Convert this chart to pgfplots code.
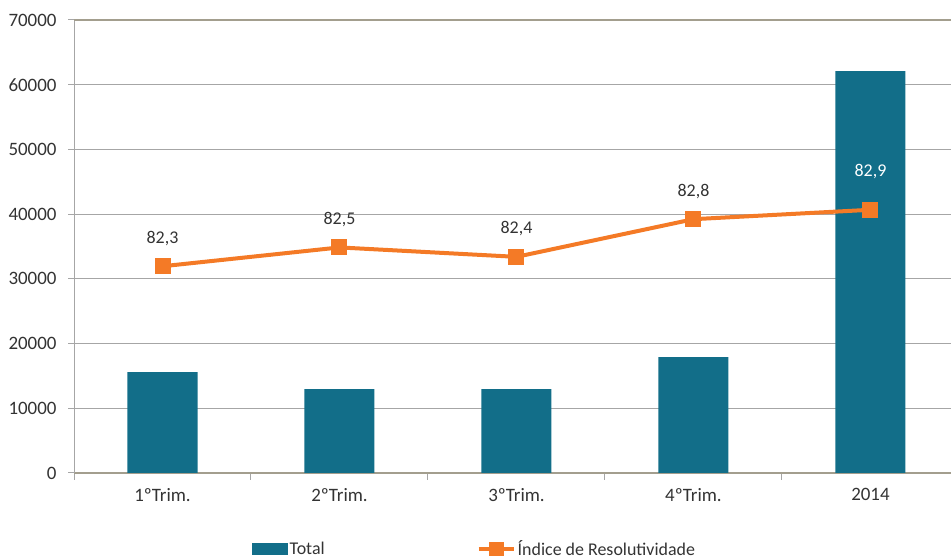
\documentclass[border=0pt]{standalone}
\usepackage{pgfplots}
\pgfplotsset{compat=1.18}
\usepackage{fontspec}
\setmainfont{Carlito}
\definecolor{barblue}{HTML}{126E89}
\definecolor{lineorange}{HTML}{F47A26}
\definecolor{gridgray}{HTML}{A6A6A6}
\definecolor{axisbrown}{HTML}{A39E8E}
\definecolor{labelgray}{HTML}{333333}
\begin{document}
\begin{tikzpicture}[x=1bp,y=1bp]
\useasboundingbox (0,0) rectangle (951,559);
% primary axis: totals as bars
\begin{axis}[
  at={(74bp,86bp)}, anchor=south west,
  scale only axis, width=877bp, height=453bp,
  xmin=-0.5, xmax=4.455, ymin=0, ymax=70000,
  axis lines*=left,
  x axis line style={axisbrown, line width=1.3bp},
  y axis line style={gridgray, line width=1bp},
  xtick={0,1,2,3,4},
  xticklabels={1ºTrim.,2ºTrim.,3ºTrim.,4ºTrim.,2014},
  major x tick style={draw=none},
  minor xtick={-0.5,0.5,1.5,2.5,3.5},
  minor x tick style={gridgray, line width=1bp},
  minor tick length=7bp,
  ytick={0,10000,...,60000},
  extra y ticks={70000},
  extra y tick style={grid style={axisbrown, line width=1.3bp}},
  ymajorgrids,
  grid style={gridgray, line width=0.9bp},
  major y tick style={gridgray, line width=1bp},
  tick align=outside,
  major tick length=6bp,
  scaled y ticks=false,
  /pgf/number format/.cd, set thousands separator={}, assume math mode=true,
  /pgfplots/.cd,
  tick label style={font=\fontsize{19}{22}\selectfont, text=labelgray},
  yticklabel style={xshift=-8bp},
  xticklabel style={yshift=-6bp},
  clip=false,
]
\addplot[ybar, bar width=70bp, fill=barblue, draw=none]
  coordinates {(0,15600) (1,12950) (2,12950) (3,17900) (4,62100)};
\end{axis}
% secondary (hidden) axis: resolution index
\begin{axis}[
  at={(74bp,86bp)}, anchor=south west,
  scale only axis, width=877bp, height=453bp,
  xmin=-0.5, xmax=4.455, ymin=80.104, ymax=84.916,
  axis lines=none,
  clip=false,
  /pgf/number format/.cd, fixed, fixed zerofill, precision=1, use comma,
    assume math mode=true,
  /pgfplots/.cd,
  legend columns=2,
  legend style={draw=none, fill=none, at={(0.203,-0.168)}, anchor=west,
    inner sep=0pt, font=\fontsize{18}{21}\selectfont, text=labelgray,
    /tikz/every even column/.append style={column sep=150bp}},
  legend cell align=left,
]
\addlegendimage{legend image code/.code={\fill[barblue] (0bp,-5bp) rectangle (35bp,6bp);}}
\addlegendentry{Total}
\addplot[lineorange, line width=4bp, mark=square*, mark size=6bp,
  legend image code/.code={
    \draw[lineorange, line width=4bp] (0bp,0bp) -- (35bp,0bp);
    \fill[lineorange] (12bp,-5bp) rectangle (23bp,5bp);}]
  coordinates {(0,82.3) (1,82.5) (2,82.4) (3,82.8) (4,82.9)};
\addlegendentry{Índice de Resolutividade}
% value labels
\addplot[forget plot, draw=none, mark=none, nodes near coords,
  every node near coord/.append style={anchor=center, yshift=28bp,
    font=\fontsize{18}{21}\selectfont, text=labelgray}]
  coordinates {(0,82.3) (1,82.5) (2,82.4) (3,82.8)};
\addplot[forget plot, draw=none, mark=none, nodes near coords,
  every node near coord/.append style={anchor=center, yshift=38bp,
    font=\fontsize{18}{21}\selectfont, text=white}]
  coordinates {(4,82.9)};
\end{axis}
\end{tikzpicture}
\end{document}
